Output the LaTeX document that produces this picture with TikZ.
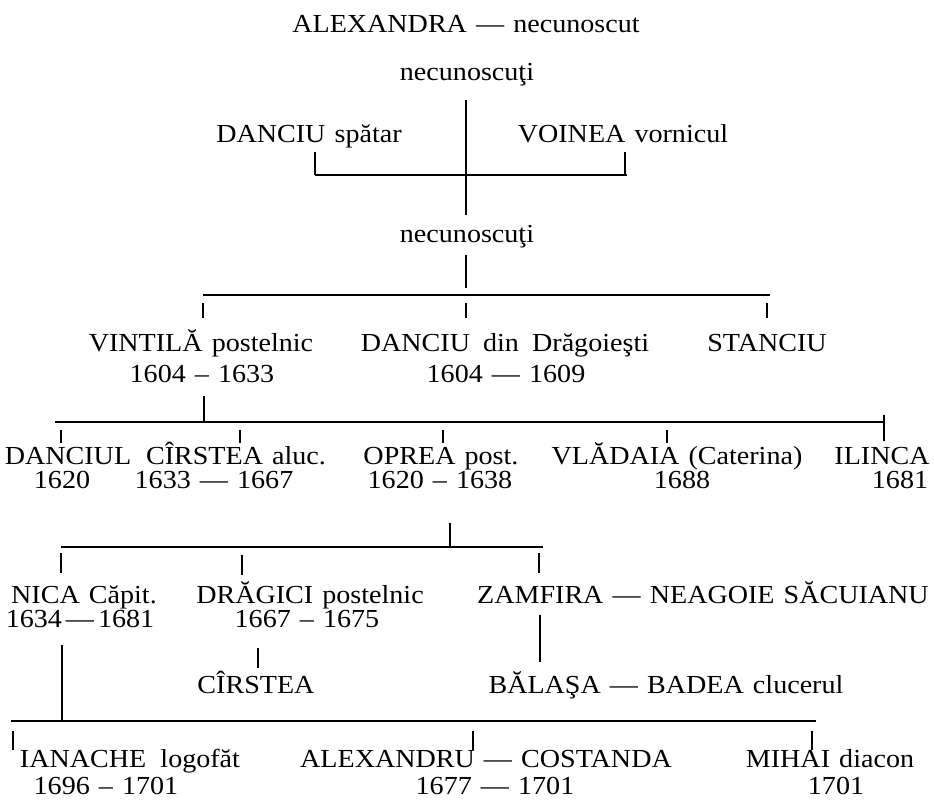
\documentclass[tikz,border=0pt]{standalone}
\usepackage{fontspec}
\setmainfont{Liberation Serif}[FakeStretch=1.08,WordSpace=1.3]
\newcommand\genfs{\fontsize{26}{29}\selectfont}
\begin{document}
\begin{tikzpicture}[x=1pt,y=-1pt,
  person/.style={anchor=base,inner sep=0pt,font=\genfs},
  bus/.style={line width=1.8pt},
  drop/.style={line width=1.3pt}]
\useasboundingbox[fill=white] (0,0) rectangle (934,808);
% ---------- texts ----------
\node[person] (alex) at (466,33) {ALEXANDRA — necunoscut};
\node[person] (nec1) at (467,81) {necunoscuţi};
\node[person] (danciu) at (309,142) {DANCIU spătar};
\node[person] (voinea) at (623,142) {VOINEA vornicul};
\node[person] (nec2) at (467,242) {necunoscuţi};
\node[person] (vintila) at (201,351) {VINTILĂ postelnic};
\node[person] (vintilaD) at (202,382) {1604 -- 1633};
\node[person] (danciuD) at (505,351) {DANCIU\hspace{4pt} din\hspace{4pt} Drăgoieşti};
\node[person] (danciuDd) at (506,382) {1604 — 1609};
\node[person] (stanciu) at (767,351) {STANCIU};
\node[person] (danciul) at (68,464) {DANCIUL};
\node[person] (danciulD) at (62,488) {1620};
\node[person] (cirstea) at (236,464) {CÎRSTEA aluc.};
\node[person] (cirsteaD) at (214,488) {1633 — 1667};
\node[person] (oprea) at (441,464) {OPREA post.};
\node[person] (opreaD) at (440,488) {1620 -- 1638};
\node[person] (vladaia) at (677,464) {VLĂDAIA (Caterina)};
\node[person] (vladaiaD) at (682,488) {1688};
\node[person] (ilinca) at (882,464) {ILINCA};
\node[person] (ilincaD) at (900,488) {1681};
\node[person] (nica) at (84,603) {NICA Căpit.};
\node[person] (nicaD) at (80,627) {1634\hspace{4pt}—\hspace{4pt}1681};
\node[person] (dragici) at (310,603) {DRĂGICI postelnic};
\node[person] (dragiciD) at (307,627) {1667 -- 1675};
\node[person] (zamfira) at (703,603) {ZAMFIRA — NEAGOIE SĂCUIANU};
\node[person] (cirstea2) at (256,693) {CÎRSTEA};
\node[person] (balasa) at (666,693) {BĂLAŞA — BADEA clucerul};
\node[person] (ianache) at (130,767) {IANACHE\hspace{5pt} logofăt};
\node[person] (ianacheD) at (106,794) {1696 -- 1701};
\node[person] (alexandru) at (486,767) {ALEXANDRU — COSTANDA};
\node[person] (alexandruD) at (495,794) {1677 — 1701};
\node[person] (mihai) at (830,767) {MIHAI diacon};
\node[person] (mihaiD) at (836,794) {1701};
% ---------- connector points ----------
\coordinate (a1) at (466,100);  \coordinate (a2) at (466,215);
\coordinate (b1l) at (315,175); \coordinate (b1r) at (627,175);
\coordinate (d1l) at (315,152); \coordinate (d1r) at (625,152);
\coordinate (d1rb) at (625,175);
\coordinate (c1) at (466,255);  \coordinate (c2) at (466,288);
\coordinate (b2l) at (203,295); \coordinate (b2r) at (770,295);
\coordinate (e1t) at (203,303); \coordinate (e1b) at (203,318);
\coordinate (e2t) at (466,303); \coordinate (e2b) at (466,318);
\coordinate (e3t) at (767,303); \coordinate (e3b) at (767,318);
\coordinate (v1) at (204,396);  \coordinate (v2) at (204,422);
\coordinate (b3l) at (55,422);  \coordinate (b3r) at (884,422);
\coordinate (f1t) at (61,430);  \coordinate (f1b) at (61,443);
\coordinate (f2t) at (240,430); \coordinate (f2b) at (240,443);
\coordinate (f3t) at (443,430); \coordinate (f3b) at (443,443);
\coordinate (f4t) at (667,430); \coordinate (f4b) at (667,443);
\coordinate (f5t) at (884,415); \coordinate (f5b) at (884,441);
\coordinate (o1) at (450,523);  \coordinate (o2) at (450,547);
\coordinate (b4l) at (61,547);  \coordinate (b4r) at (543,547);
\coordinate (g1t) at (61,553);  \coordinate (g1b) at (61,573);
\coordinate (g2t) at (242,555); \coordinate (g2b) at (242,575);
\coordinate (g3t) at (539,553); \coordinate (g3b) at (539,573);
\coordinate (n1) at (62,645);   \coordinate (n2) at (62,721);
\coordinate (r1) at (258,648);  \coordinate (r2) at (258,668);
\coordinate (z1) at (540,615);  \coordinate (z2) at (540,662);
\coordinate (b5l) at (11,721);  \coordinate (b5r) at (816,721);
\coordinate (h1t) at (13,731);  \coordinate (h1b) at (13,750);
\coordinate (h2t) at (473,731); \coordinate (h2b) at (473,750);
\coordinate (h3t) at (812,731); \coordinate (h3b) at (812,750);
% ---------- connectors ----------
\draw[drop] (a1) -- (a2);
\draw[bus] (b1l) -- (b1r);
\draw[drop] (d1l) -- (b1l);
\draw[drop] (d1r) -- (d1rb);
\draw[drop] (c1) -- (c2);
\draw[bus] (b2l) -- (b2r);
\draw[drop] (e1t) -- (e1b);
\draw[drop] (e2t) -- (e2b);
\draw[drop] (e3t) -- (e3b);
\draw[drop] (v1) -- (v2);
\draw[bus] (b3l) -- (b3r);
\draw[drop] (f1t) -- (f1b);
\draw[drop] (f2t) -- (f2b);
\draw[drop] (f3t) -- (f3b);
\draw[drop] (f4t) -- (f4b);
\draw[drop] (f5t) -- (f5b);
\draw[drop] (o1) -- (o2);
\draw[bus] (b4l) -- (b4r);
\draw[drop] (g1t) -- (g1b);
\draw[drop] (g2t) -- (g2b);
\draw[drop] (g3t) -- (g3b);
\draw[drop] (n1) -- (n2);
\draw[drop] (r1) -- (r2);
\draw[drop] (z1) -- (z2);
\draw[bus] (b5l) -- (b5r);
\draw[drop] (h1t) -- (h1b);
\draw[drop] (h2t) -- (h2b);
\draw[drop] (h3t) -- (h3b);
\end{tikzpicture}
\end{document}
